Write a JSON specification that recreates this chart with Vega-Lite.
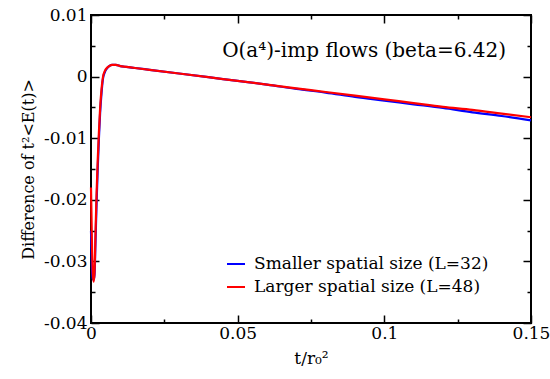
{
  "$schema": "https://vega.github.io/schema/vega-lite/v6.json",
  "width": 440,
  "height": 308,
  "autosize": {"type": "none"},
  "padding": {"left": 91, "top": 15, "right": 19, "bottom": 56},
  "background": "white",
  "config": {
    "view": {"stroke": "black", "strokeWidth": 2},
    "font": "DejaVu Serif",
    "axis": {
      "domain": false,
      "grid": false,
      "labelFont": "DejaVu Serif",
      "titleFont": "DejaVu Serif",
      "labelColor": "black",
      "titleColor": "black",
      "tickColor": "black",
      "tickWidth": 1.5,
      "titleFontWeight": "normal",
      "labelFontSize": 17,
      "titleFontSize": 16
    }
  },
  "datasets": {
    "curves": [
      {"t": 0, "y": -0.025, "series": "Smaller spatial size (L=32)"},
      {"t": 0.0003, "y": -0.0305, "series": "Smaller spatial size (L=32)"},
      {"t": 0.0006, "y": -0.0328, "series": "Smaller spatial size (L=32)"},
      {"t": 0.0009, "y": -0.033, "series": "Smaller spatial size (L=32)"},
      {"t": 0.0012, "y": -0.0322, "series": "Smaller spatial size (L=32)"},
      {"t": 0.0015, "y": -0.0275, "series": "Smaller spatial size (L=32)"},
      {"t": 0.0019, "y": -0.0205, "series": "Smaller spatial size (L=32)"},
      {"t": 0.0023, "y": -0.0148, "series": "Smaller spatial size (L=32)"},
      {"t": 0.0027, "y": -0.01, "series": "Smaller spatial size (L=32)"},
      {"t": 0.0031, "y": -0.006, "series": "Smaller spatial size (L=32)"},
      {"t": 0.0036, "y": -0.0026, "series": "Smaller spatial size (L=32)"},
      {"t": 0.0041, "y": -0.0003, "series": "Smaller spatial size (L=32)"},
      {"t": 0.0047, "y": 0.0007, "series": "Smaller spatial size (L=32)"},
      {"t": 0.0054, "y": 0.0013, "series": "Smaller spatial size (L=32)"},
      {"t": 0.0062, "y": 0.0017, "series": "Smaller spatial size (L=32)"},
      {"t": 0.0072, "y": 0.0019, "series": "Smaller spatial size (L=32)"},
      {"t": 0.0085, "y": 0.0019, "series": "Smaller spatial size (L=32)"},
      {"t": 0.01, "y": 0.0017, "series": "Smaller spatial size (L=32)"},
      {"t": 0.012, "y": 0.00157, "series": "Smaller spatial size (L=32)"},
      {"t": 0.015, "y": 0.0014, "series": "Smaller spatial size (L=32)"},
      {"t": 0.02, "y": 0.0011, "series": "Smaller spatial size (L=32)"},
      {"t": 0.03, "y": 0.0005, "series": "Smaller spatial size (L=32)"},
      {"t": 0.04, "y": -0.0001, "series": "Smaller spatial size (L=32)"},
      {"t": 0.05, "y": -0.0007, "series": "Smaller spatial size (L=32)"},
      {"t": 0.06, "y": -0.0013, "series": "Smaller spatial size (L=32)"},
      {"t": 0.07, "y": -0.002, "series": "Smaller spatial size (L=32)"},
      {"t": 0.08, "y": -0.0026, "series": "Smaller spatial size (L=32)"},
      {"t": 0.09, "y": -0.0033, "series": "Smaller spatial size (L=32)"},
      {"t": 0.1, "y": -0.0039, "series": "Smaller spatial size (L=32)"},
      {"t": 0.11, "y": -0.0045, "series": "Smaller spatial size (L=32)"},
      {"t": 0.12, "y": -0.0051, "series": "Smaller spatial size (L=32)"},
      {"t": 0.13, "y": -0.0058, "series": "Smaller spatial size (L=32)"},
      {"t": 0.14, "y": -0.0064, "series": "Smaller spatial size (L=32)"},
      {"t": 0.15, "y": -0.0071, "series": "Smaller spatial size (L=32)"},
      {"t": 0, "y": -0.018, "series": "Larger spatial size (L=48)"},
      {"t": 0.0003, "y": -0.0265, "series": "Larger spatial size (L=48)"},
      {"t": 0.0006, "y": -0.0318, "series": "Larger spatial size (L=48)"},
      {"t": 0.0009, "y": -0.0333, "series": "Larger spatial size (L=48)"},
      {"t": 0.0012, "y": -0.0318, "series": "Larger spatial size (L=48)"},
      {"t": 0.0015, "y": -0.0262, "series": "Larger spatial size (L=48)"},
      {"t": 0.0019, "y": -0.019, "series": "Larger spatial size (L=48)"},
      {"t": 0.0023, "y": -0.0135, "series": "Larger spatial size (L=48)"},
      {"t": 0.0027, "y": -0.009, "series": "Larger spatial size (L=48)"},
      {"t": 0.0031, "y": -0.0052, "series": "Larger spatial size (L=48)"},
      {"t": 0.0036, "y": -0.002, "series": "Larger spatial size (L=48)"},
      {"t": 0.0041, "y": 0.0, "series": "Larger spatial size (L=48)"},
      {"t": 0.0047, "y": 0.0009, "series": "Larger spatial size (L=48)"},
      {"t": 0.0054, "y": 0.0014, "series": "Larger spatial size (L=48)"},
      {"t": 0.0062, "y": 0.0017, "series": "Larger spatial size (L=48)"},
      {"t": 0.0072, "y": 0.0019, "series": "Larger spatial size (L=48)"},
      {"t": 0.0085, "y": 0.0019, "series": "Larger spatial size (L=48)"},
      {"t": 0.01, "y": 0.0017, "series": "Larger spatial size (L=48)"},
      {"t": 0.012, "y": 0.00158, "series": "Larger spatial size (L=48)"},
      {"t": 0.015, "y": 0.0014, "series": "Larger spatial size (L=48)"},
      {"t": 0.02, "y": 0.0011, "series": "Larger spatial size (L=48)"},
      {"t": 0.03, "y": 0.0005, "series": "Larger spatial size (L=48)"},
      {"t": 0.04, "y": -0.0001, "series": "Larger spatial size (L=48)"},
      {"t": 0.05, "y": -0.0007, "series": "Larger spatial size (L=48)"},
      {"t": 0.06, "y": -0.0013, "series": "Larger spatial size (L=48)"},
      {"t": 0.07, "y": -0.0019, "series": "Larger spatial size (L=48)"},
      {"t": 0.08, "y": -0.0025, "series": "Larger spatial size (L=48)"},
      {"t": 0.09, "y": -0.0031, "series": "Larger spatial size (L=48)"},
      {"t": 0.1, "y": -0.0037, "series": "Larger spatial size (L=48)"},
      {"t": 0.11, "y": -0.0043, "series": "Larger spatial size (L=48)"},
      {"t": 0.12, "y": -0.0049, "series": "Larger spatial size (L=48)"},
      {"t": 0.13, "y": -0.0054, "series": "Larger spatial size (L=48)"},
      {"t": 0.14, "y": -0.006, "series": "Larger spatial size (L=48)"},
      {"t": 0.15, "y": -0.0066, "series": "Larger spatial size (L=48)"}
    ],
    "note": [
      {"t": 0.0931, "y": 0.0042, "label": "O(a⁴)-imp flows (beta=6.42)"}
    ]
  },
  "layer": [
    {
      "data": {"name": "curves"},
      "mark": {"type": "line", "strokeWidth": 2.2, "interpolate": "monotone"},
      "encoding": {
        "x": {
          "field": "t", "type": "quantitative",
          "scale": {"domain": [0, 0.15], "nice": false, "zero": false},
          "axis": {"orient": "bottom", "values": [0, 0.05, 0.1, 0.15], "labelExpr": "toString(datum.value)", "ticks": false, "labelPadding": 2, "labelFlush": false, "labelOverlap": false, "title": "t/r₀²", "titleFontSize": 17, "titlePadding": 9}
        },
        "y": {
          "field": "y", "type": "quantitative",
          "scale": {"domain": [-0.04, 0.01], "nice": false, "zero": false},
          "axis": {"orient": "left", "values": [-0.04, -0.03, -0.02, -0.01, 0, 0.01], "labelExpr": "toString(datum.value)", "ticks": false, "labelPadding": 4, "labelFlush": false, "labelOverlap": false, "title": "Difference of t²<E(t)>", "titlePadding": 7}
        },
        "color": {
          "field": "series", "type": "nominal",
          "scale": {"domain": ["Smaller spatial size (L=32)", "Larger spatial size (L=48)"], "range": ["#0000ff", "#ff0000"]},
          "sort": ["Smaller spatial size (L=32)", "Larger spatial size (L=48)"],
          "legend": {"orient": "none", "legendX": 135, "legendY": 239, "title": null, "symbolType": "stroke", "symbolSize": 324, "symbolStrokeWidth": 2, "labelFont": "DejaVu Serif", "labelFontSize": 17, "labelColor": "black", "labelOffset": 8, "padding": 0, "rowPadding": 5, "labelLimit": 400}
        }
      }
    },
    {
      "data": {"name": "note"},
      "mark": {"type": "text", "font": "DejaVu Serif", "fontSize": 20, "align": "center", "baseline": "middle", "color": "black"},
      "encoding": {
        "x": {"field": "t", "type": "quantitative", "axis": null},
        "y": {"field": "y", "type": "quantitative", "axis": null},
        "text": {"field": "label"}
      }
    },
    {
      "data": {"name": "curves"},
      "mark": {"type": "line", "opacity": 0},
      "encoding": {
        "x": {"field": "t", "type": "quantitative", "axis": {"orient": "bottom", "values": [0, 0.05, 0.1, 0.15], "labels": false, "tickSize": -8, "title": null}},
        "y": {"field": "y", "type": "quantitative", "axis": {"orient": "left", "values": [-0.04, -0.03, -0.02, -0.01, 0, 0.01], "labels": false, "tickSize": -8, "title": null}}
      }
    },
    {
      "data": {"name": "curves"},
      "mark": {"type": "line", "opacity": 0},
      "encoding": {
        "x": {"field": "t", "type": "quantitative", "axis": {"orient": "bottom", "values": [0.025, 0.075, 0.125], "labels": false, "tickSize": -4, "title": null}},
        "y": {"field": "y", "type": "quantitative", "axis": {"orient": "left", "values": [-0.035, -0.025, -0.015, -0.005, 0.005], "labels": false, "tickSize": -4, "title": null}}
      }
    },
    {
      "data": {"name": "curves"},
      "mark": {"type": "line", "opacity": 0},
      "encoding": {
        "x": {"field": "t", "type": "quantitative", "axis": {"orient": "top", "values": [0, 0.05, 0.1, 0.15], "labels": false, "tickSize": -8, "title": null}},
        "y": {"field": "y", "type": "quantitative", "axis": {"orient": "right", "values": [-0.04, -0.03, -0.02, -0.01, 0, 0.01], "labels": false, "tickSize": -8, "title": null}}
      }
    },
    {
      "data": {"name": "curves"},
      "mark": {"type": "line", "opacity": 0},
      "encoding": {
        "x": {"field": "t", "type": "quantitative", "axis": {"orient": "top", "values": [0.025, 0.075, 0.125], "labels": false, "tickSize": -4, "title": null}},
        "y": {"field": "y", "type": "quantitative", "axis": {"orient": "right", "values": [-0.035, -0.025, -0.015, -0.005, 0.005], "labels": false, "tickSize": -4, "title": null}}
      }
    }
  ],
  "resolve": {"axis": {"x": "independent", "y": "independent"}}
}
